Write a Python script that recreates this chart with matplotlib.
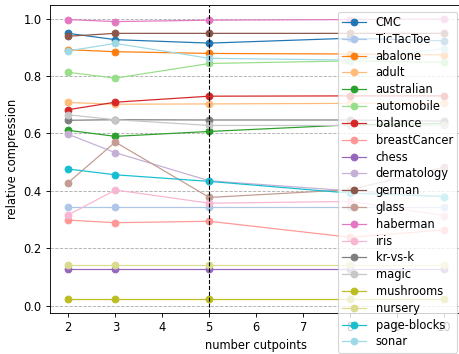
import numpy as np
import matplotlib
matplotlib.use('Agg')
import matplotlib.pyplot as plt

plt.rcParams['font.size'] = 10.4

cutpoints = [2, 3, 5, 8, 10]

datasets = ['CMC', 'TicTacToe', 'abalone', 'adult', 'australian', 'automobile',
            'balance', 'breastCancer', 'chess', 'dermatology', 'german', 'glass',
            'haberman', 'iris', 'kr-vs-k', 'magic', 'mushrooms', 'nursery',
            'page-blocks', 'sonar']

cmc = [0.949, 0.927, 0.915, 0.932, 0.923]
tictactoe = [0.342, 0.342, 0.342, 0.342, 0.342]
abalone = [0.892, 0.885, 0.879, 0.877, 0.874]
adult = [0.708, 0.702, 0.703, 0.705, 0.705]
australian = [0.611, 0.590, 0.607, 0.630, 0.635]
automobile = [0.813, 0.793, 0.844, 0.853, 0.848]
balance = [0.683, 0.709, 0.730, 0.731, 0.731]
breast_cancer = [0.298, 0.289, 0.294, 0.238, 0.264]
chess = [0.126, 0.126, 0.126, 0.126, 0.126]
dermatology = [0.597, 0.533, 0.435, 0.400, 0.380]
german = [0.939, 0.949, 0.949, 0.949, 0.949]
glass = [0.429, 0.570, 0.377, 0.404, 0.483]
haberman = [0.997, 0.990, 0.995, 0.997, 0.999]
iris = [0.316, 0.403, 0.357, 0.363, 0.314]
kr_vs_k = [0.646, 0.648, 0.647, 0.647, 0.643]
magic = [0.665, 0.648, 0.628, 0.628, 0.628]
mushrooms = [0.022, 0.022, 0.022, 0.022, 0.022]
nursery = [0.141, 0.141, 0.141, 0.141, 0.141]
page_blocks = [0.476, 0.456, 0.433, 0.392, 0.380]
sonar = [0.888, 0.914, 0.862, 0.856, 0.896]

values = [cmc, tictactoe, abalone, adult, australian, automobile, balance,
          breast_cancer, chess, dermatology, german, glass, haberman, iris,
          kr_vs_k, magic, mushrooms, nursery, page_blocks, sonar]

fig = plt.figure(figsize=(459 / 80, 354 / 80), dpi=80)
ax = fig.add_axes([49.5 / 459, 1 - 313.3 / 354, 413.6 / 459, 308.3 / 354])

colors = plt.cm.tab20(np.arange(20))
for name, vals, c in zip(datasets, values, colors):
    ax.plot(cutpoints, vals, 'o-', color=c, label=name, linewidth=1.1)

ax.axvline(5, color='k', linestyle='--', linewidth=1)
ax.yaxis.grid(True, linestyle='--', color='#b0b0b0', linewidth=0.8)
ax.set_xlabel('number cutpoints')
ax.set_ylabel('relative compression')

ax.legend(loc='upper left', bbox_to_anchor=(338 / 459, 1 - 12 / 354),
          bbox_transform=fig.transFigure, borderaxespad=0,
          labelspacing=0.33, handlelength=2.1, borderpad=0.35)

fig.savefig('out.png', dpi=80)
